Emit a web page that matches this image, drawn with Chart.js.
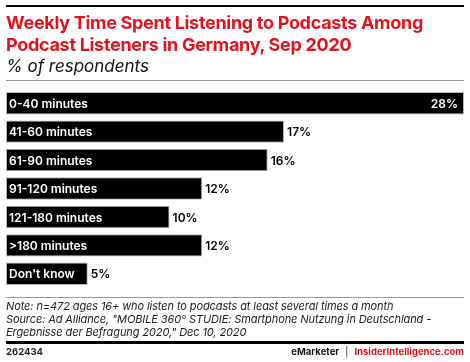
<!DOCTYPE html>
<html>
<head>
<meta charset="utf-8">
<script src="https://cdn.jsdelivr.net/npm/chart.js@4"></script>
<style>
  html, body { margin: 0; padding: 0; background: #fff; }
  body { width: 470px; height: 362px; position: relative; overflow: hidden; font-family: Inter, "Noto Sans", sans-serif; }
  #wrap { position: absolute; left: 0; top: 0; width: 470px; height: 362px; }
  .rule { position: absolute; left: 6px; width: 458px; }
  .title { position: absolute; left: 6px; top: 12px; color: #e3121f; font-weight: 700; font-size: 18px; line-height: 22px; letter-spacing: -0.3px; }
  .sub { position: absolute; left: 6px; top: 56px; font-style: italic; font-size: 17px; color: #111; }
  .note { position: absolute; left: 6px; top: 300px; font-style: italic; font-size: 11px; line-height: 13px; color: #222; letter-spacing: -0.1px; }
  .foot { position: absolute; top: 346px; font-size: 9.5px; font-weight: 700; }
</style>
</head>
<body>
<div id="wrap"><canvas id="chart" width="470" height="362"></canvas></div>
<div class="rule" style="top:5px;height:2px;background:#000"></div>
<div class="title">Weekly Time Spent Listening to Podcasts Among<br>Podcast Listeners in Germany, Sep 2020</div>
<div class="sub">% of respondents</div>
<div class="rule" style="top:80px;height:1px;background:#999"></div>
<div class="rule" style="top:297px;height:1px;background:#999"></div>
<div class="note">Note: n=472 ages 16+ who listen to podcasts at least several times a month<br>Source: Ad Alliance, "MOBILE 360° STUDIE: Smartphone Nutzung in Deutschland -<br>Ergebnisse der Befragung 2020," Dec 10, 2020</div>
<div class="rule" style="top:341px;height:3px;background:#000"></div>
<div class="foot" style="left:6px;color:#222">262434</div>
<div class="foot" style="right:6px"><span style="color:#111">eMarketer</span><span style="color:#111;font-weight:400;padding:0 6px">|</span><span style="color:#e3121f">InsiderIntelligence.com</span></div>

<script>
"use strict";

/* global Chart */

// Data
const categories = ["0-40 minutes", "41-60 minutes", "61-90 minutes", "91-120 minutes", "121-180 minutes", ">180 minutes", "Don't know"];
const shares = [28, 17, 16, 12, 10, 12, 5];

// Labels inside and after the bars
const barLabels = {
    id: "barLabels",
    afterDatasetsDraw(chart) {
        const c = chart.ctx;
        const meta = chart.getDatasetMeta(0);
        const xScale = chart.scales.x;
        const maxVal = Math.max(...shares);
        c.save();
        c.textBaseline = "middle";
        c.font = "600 12px Inter, 'Noto Sans', sans-serif";
        meta.data.forEach((bar, i) => {
            c.fillStyle = "#fff";
            c.textAlign = "left";
            c.fillText(categories[i], xScale.left + 3, bar.y + 1);
            const txt = shares[i] + "%";
            if (shares[i] === maxVal) {
                c.textAlign = "right";
                c.fillText(txt, bar.x - 6, bar.y + 1);
            } else {
                c.fillStyle = "#000";
                c.textAlign = "left";
                c.fillText(txt, bar.x + 3, bar.y + 1);
            }
        });
        c.restore();
    }
};

new Chart(document.getElementById("chart").getContext("2d"), {
    type: "bar",
    data: {
        labels: categories,
        datasets: [{
            data: shares,
            backgroundColor: "#000",
            borderColor: "#b5b5b5",
            borderWidth: 1,
            borderSkipped: false,
            barPercentage: 0.79,
            categoryPercentage: 1
        }]
    },
    options: {
        indexAxis: "y",
        responsive: false,
        animation: false,
        layout: { padding: { left: 6, right: 6, top: 89, bottom: 74 } },
        scales: {
            x: { display: false, min: 0, max: 28 },
            y: { display: false }
        },
        plugins: { legend: { display: false }, tooltip: { enabled: false } }
    },
    plugins: [barLabels]
});
</script>
</body>
</html>
